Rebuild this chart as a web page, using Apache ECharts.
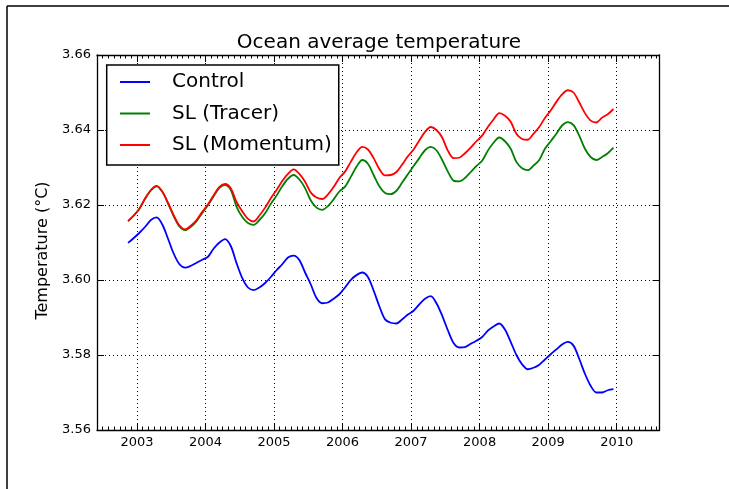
<!DOCTYPE html>
<html>
<head>
<meta charset="utf-8">
<script src="https://cdn.jsdelivr.net/npm/echarts@6/dist/echarts.min.js"></script>
<style>
  html, body { margin: 0; padding: 0; background: #fff; }
  #chart { width: 729px; height: 489px; }
</style>
</head>
<body>
<div id="chart"></div>
<script>
// Monthly ocean-average temperature (°C), first sample near mid-November 2002
const startYear = 2002.87;
const monthStep = 1 / 12;

const control = [
  3.6099, 3.6112, 3.6126, 3.6142, 3.6160, 3.6167, 3.6148, 3.6110, 3.6070, 3.6042,
  3.6033, 3.6038, 3.6046, 3.6054, 3.6062, 3.6084, 3.6100, 3.6109, 3.6090, 3.6045,
  3.6005, 3.5980, 3.5973, 3.5980, 3.5992, 3.6008, 3.6026, 3.6042, 3.6060, 3.6065,
  3.6053, 3.6020, 3.5988, 3.5952, 3.5938, 3.5940, 3.5950, 3.5962, 3.5980, 3.6000,
  3.6013, 3.6020, 3.6008, 3.5972, 3.5930, 3.5895, 3.5886, 3.5884, 3.5895, 3.5908,
  3.5918, 3.5935, 3.5950, 3.5957, 3.5938, 3.5905, 3.5866, 3.5832, 3.5820, 3.5821,
  3.5830, 3.5838, 3.5848, 3.5865, 3.5876, 3.5884, 3.5868, 3.5835, 3.5800, 3.5775,
  3.5762, 3.5766, 3.5774, 3.5788, 3.5802, 3.5815, 3.5828, 3.5835, 3.5825, 3.5790,
  3.5750, 3.5718, 3.5700, 3.5700, 3.5706, 3.5709
];

const slTracer = [
  3.6157, 3.6172, 3.6190, 3.6217, 3.6239, 3.6250, 3.6235, 3.6204, 3.6170, 3.6143,
  3.6133, 3.6142, 3.6157, 3.6179, 3.6200, 3.6224, 3.6246, 3.6254, 3.6240, 3.6195,
  3.6168, 3.6152, 3.6147, 3.6160, 3.6178, 3.6203, 3.6225, 3.6250, 3.6270, 3.6280,
  3.6268, 3.6245, 3.6212, 3.6193, 3.6187, 3.6197, 3.6215, 3.6236, 3.6249, 3.6275,
  3.6302, 3.6320, 3.6310, 3.6280, 3.6250, 3.6232, 3.6229, 3.6238, 3.6260, 3.6282,
  3.6304, 3.6325, 3.6346, 3.6355, 3.6346, 3.6320, 3.6289, 3.6265, 3.6263, 3.6272,
  3.6288, 3.6304, 3.6318, 3.6345, 3.6366, 3.6380, 3.6370, 3.6350, 3.6315, 3.6298,
  3.6293, 3.6305, 3.6320, 3.6350, 3.6370, 3.6390, 3.6412, 3.6421, 3.6413, 3.6385,
  3.6350, 3.6328, 3.6320, 3.6328, 3.6338, 3.6353
];

const slMomentum = [
  3.6157, 3.6172, 3.6191, 3.6218, 3.6240, 3.6251, 3.6236, 3.6206, 3.6172, 3.6145,
  3.6135, 3.6145, 3.6160, 3.6182, 3.6202, 3.6226, 3.6248, 3.6256, 3.6244, 3.6208,
  3.6183, 3.6163, 3.6156, 3.6172, 3.6193, 3.6218, 3.6240, 3.6264, 3.6283, 3.6295,
  3.6283, 3.6262, 3.6233, 3.6220, 3.6216, 3.6228, 3.6248, 3.6272, 3.6289, 3.6315,
  3.6340, 3.6355, 3.6348, 3.6325, 3.6296, 3.6279, 3.6280, 3.6288, 3.6308, 3.6330,
  3.6348, 3.6372, 3.6395, 3.6408, 3.6400, 3.6380, 3.6345, 3.6325, 3.6326, 3.6338,
  3.6353, 3.6370, 3.6385, 3.6408, 3.6428, 3.6445, 3.6438, 3.6422, 3.6390, 3.6376,
  3.6374, 3.6390, 3.6408, 3.6432, 3.6452, 3.6475, 3.6495, 3.6506, 3.6500, 3.6474,
  3.6445, 3.6425, 3.6420, 3.6433, 3.6442, 3.6456
];

const seriesNames = ['Control', 'SL (Tracer)', 'SL (Momentum)'];
const seriesColors = ['#0000ff', '#008000', '#ff0000'];
const seriesValues = [control, slTracer, slMomentum];

const xRange = [2002.4167, 2010.625];
const yRange = [3.56, 3.66];
const yStep = 0.02;

const FONT = 'DejaVu Sans';

function toPairs(values) {
  return values.map((v, i) => [startYear + i * monthStep, v]);
}

function yearLabel(v) {
  return Math.abs(v - Math.round(v)) < 1e-6 ? String(Math.round(v)) : '';
}

const gridLine = { show: true, lineStyle: { color: '#000', width: 1, type: [1, 3] } };
const axisLine = { show: true, onZero: false, lineStyle: { color: '#000', width: 1.3 } };

const chart = echarts.init(document.getElementById('chart'), null, { renderer: 'canvas' });

chart.setOption({
  animation: false,
  backgroundColor: '#fff',
  textStyle: { fontFamily: FONT },
  title: {
    text: 'Ocean average temperature',
    left: 374, textAlign: 'center',
    top: 28,
    textStyle: { fontFamily: FONT, fontSize: 20, fontWeight: 'normal', color: '#000' }
  },
  legend: {
    orient: 'vertical',
    left: 106.7, top: 65,
    padding: [5, 7, 8, 13.3],
    itemGap: 7.5,
    itemWidth: 30, itemHeight: 2,
    icon: 'rect',
    backgroundColor: '#fff',
    borderColor: '#000', borderWidth: 1.5, borderRadius: 0,
    textStyle: { fontFamily: FONT, fontSize: 20, color: '#000', lineHeight: 24, padding: [0, 0, 0, 17] },
    data: seriesNames
  },
  grid: { left: 97, top: 55, width: 562.5, height: 375, containLabel: false },
  xAxis: [
    {
      type: 'value', position: 'bottom', min: xRange[0], max: xRange[1], splitNumber: 8,
      axisLine: axisLine,
      axisTick: { show: true, inside: true, length: 7, lineStyle: { color: '#000', width: 1 } },
      minorTick: { show: true, splitNumber: 12, length: 3.5, lineStyle: { color: '#000', width: 1 } },
      axisLabel: { formatter: yearLabel, margin: 6, fontFamily: FONT, fontSize: 13, color: '#000', showMinLabel: false, showMaxLabel: false },
      splitLine: gridLine
    },
    {
      type: 'value', position: 'top', min: xRange[0], max: xRange[1], splitNumber: 8,
      axisLine: axisLine,
      axisTick: { show: true, inside: true, length: 7, lineStyle: { color: '#000', width: 1 } },
      minorTick: { show: true, splitNumber: 12, length: 3.5, lineStyle: { color: '#000', width: 1 } },
      axisLabel: { show: false },
      splitLine: { show: false }
    }
  ],
  yAxis: [
    {
      type: 'value', position: 'left', min: yRange[0], max: yRange[1], interval: yStep,
      name: 'Temperature (°C)', nameLocation: 'middle', nameGap: 46,
      nameTextStyle: { fontFamily: FONT, fontSize: 16, color: '#000', padding: [0, 16, 0, 0] },
      axisLine: axisLine,
      axisTick: { show: true, inside: true, length: 7, lineStyle: { color: '#000', width: 1 } },
      axisLabel: { formatter: v => v.toFixed(2), margin: 6, fontFamily: FONT, fontSize: 13, color: '#000' },
      splitLine: gridLine
    },
    {
      type: 'value', position: 'right', min: yRange[0], max: yRange[1], interval: yStep,
      axisLine: axisLine,
      axisTick: { show: true, inside: true, length: 7, lineStyle: { color: '#000', width: 1 } },
      axisLabel: { show: false },
      splitLine: { show: false }
    }
  ],
  graphic: [
    { type: 'line', shape: { x1: 7, y1: 6, x2: 729, y2: 6 }, style: { stroke: '#000', lineWidth: 1.5 }, silent: true },
    { type: 'line', shape: { x1: 7, y1: 6, x2: 7, y2: 489 }, style: { stroke: '#000', lineWidth: 1.5 }, silent: true }
  ],
  series: seriesNames.map((name, k) => ({
    name: name,
    type: 'line',
    xAxisIndex: 0, yAxisIndex: 0,
    data: toPairs(seriesValues[k]),
    showSymbol: false, symbol: 'none',
    smooth: 0.3,
    color: seriesColors[k],
    lineStyle: { color: seriesColors[k], width: 1.8 },
    z: 2 + k
  }))
});
</script>
</body>
</html>
